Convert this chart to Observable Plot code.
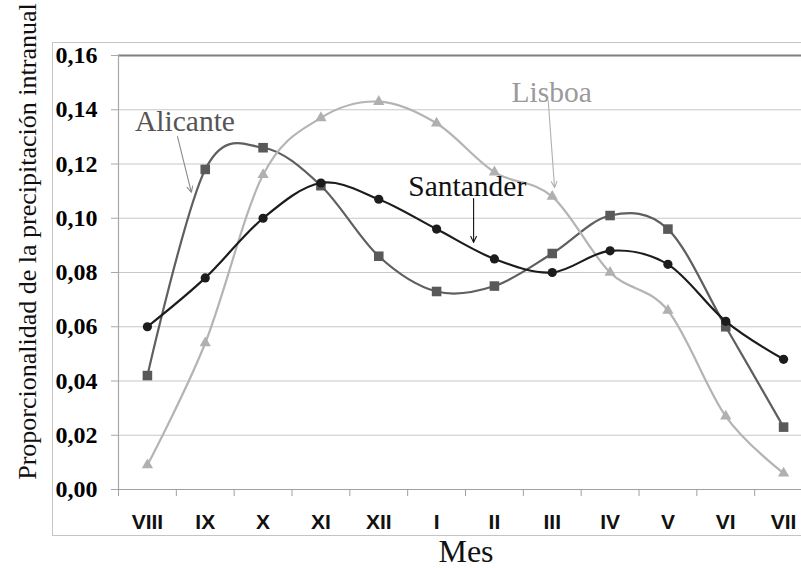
<!DOCTYPE html>
<html>
<head>
<meta charset="utf-8">
<script src="https://cdn.jsdelivr.net/npm/d3@7"></script>
<script src="https://cdn.jsdelivr.net/npm/@observablehq/plot@0.6"></script>
<style>
  html, body { margin: 0; padding: 0; background: #fff; overflow: hidden; }
  #wrap { position: relative; width: 801px; height: 568px; }
  #frame { position: absolute; left: 52px; top: 42px; width: 760px; height: 494px; border: 1px solid #c4c4c4; box-sizing: border-box; }
  #chart { position: absolute; left: 0; top: 0; }
</style>
</head>
<body>
<div id="wrap"><div id="frame"></div><div id="chart"></div></div>
<script>
// Months (hydrological year)
const months = ["VIII", "IX", "X", "XI", "XII", "I", "II", "III", "IV", "V", "VI", "VII"];

// Series values
const santander = [0.060, 0.078, 0.100, 0.113, 0.107, 0.096, 0.085, 0.080, 0.088, 0.083, 0.062, 0.048];
const alicante  = [0.042, 0.118, 0.126, 0.112, 0.086, 0.073, 0.075, 0.087, 0.101, 0.096, 0.060, 0.023];
const lisboa    = [0.009, 0.054, 0.116, 0.137, 0.143, 0.135, 0.117, 0.108, 0.080, 0.066, 0.027, 0.006];

// Y ticks
const yTicks = [0, 0.02, 0.04, 0.06, 0.08, 0.10, 0.12, 0.14, 0.16];

// Annotations (month index position, value)
const labelNames  = ["Alicante", "Lisboa", "Santander"];
const labelX      = [0.65, 6.99, 5.53];
const labelY      = [0.1357, 0.1464, 0.1117];
const labelColors = ["#555555", "#9a9a9a", "#111111"];
const arrowX1 = [0.52, 6.93, 5.64];
const arrowY1 = [0.1301, 0.1434, 0.1073];
const arrowX2 = [0.76, 7.04, 5.64];
const arrowY2 = [0.1095, 0.1113, 0.0911];
const arrowColors = ["#8a8a8a", "#b0b0b0", "#111111"];

const yTitle = "Proporcionalidad de la precipitación intranual";
const xTitle = "Mes";

const toRows = (vals) => vals.map((v, i) => ({i, v}));
const sRows = toRows(santander), aRows = toRows(alicante), lRows = toRows(lisboa);
const labels = labelNames.map((t, k) => ({t, x: labelX[k], y: labelY[k], c: labelColors[k]}));
const arrows = labelNames.map((t, k) => ({x1: arrowX1[k], y1: arrowY1[k], x2: arrowX2[k], y2: arrowY2[k], c: arrowColors[k]}));
const fmt = (d) => d3.format(".2f")(d).replace(".", ",");
const bandEdges = d3.range(-0.5, 12, 1);

const chart = Plot.plot({
  width: 801,
  height: 568,
  marginLeft: 118,
  marginTop: 55,
  marginBottom: 79,
  marginRight: 0,
  style: {background: "transparent", overflow: "visible"},
  x: {type: "linear", domain: [-0.5, 11.5], range: [118, 812]},
  y: {domain: [0, 0.16]},
  marks: [
    Plot.gridY(yTicks.slice(1, -1), {stroke: "#c8c8c8", strokeOpacity: 1, strokeWidth: 1.2}),
    Plot.ruleY([0.16], {stroke: "#7f7f7f", strokeWidth: 1.8}),
    Plot.ruleY([0], {stroke: "#a0a0a0", strokeWidth: 1.2}),
    Plot.ruleX([-0.5], {y1: 0, y2: 0.16, stroke: "#a8a8a8", strokeWidth: 1.2}),
    Plot.axisY({ticks: yTicks, tickFormat: fmt, tickSize: 7, tickPadding: 14, stroke: "#a8a8a8",
      fontFamily: "Liberation Serif", fontWeight: "bold", fontSize: 24, fill: "#000", label: null}),
    Plot.axisX({ticks: bandEdges, tickFormat: () => "", tickSize: 7, stroke: "#a0a0a0", label: null}),
    Plot.axisX({ticks: d3.range(12), tickFormat: (i) => months[i], tickSize: 0, tickPadding: 25,
      fontFamily: "Liberation Sans", fontWeight: "bold", fontSize: 21, fill: "#111", label: null}),
    // series
    Plot.line(aRows, {x: "i", y: "v", curve: "cardinal", stroke: "#5f5f5f", strokeWidth: 2.2}),
    Plot.dot(aRows, {x: "i", y: "v", symbol: "square", r: 5.4, fill: "#595959", stroke: "none"}),
    Plot.line(lRows, {x: "i", y: "v", curve: "cardinal", stroke: "#b4b4b4", strokeWidth: 2.2}),
    Plot.dot(lRows, {x: "i", y: "v", symbol: "triangle", r: 4.2, fill: "#b0b0b0", stroke: "none"}),
    Plot.line(sRows, {x: "i", y: "v", curve: "cardinal", stroke: "#1c1c1c", strokeWidth: 2.2}),
    Plot.dot(sRows, {x: "i", y: "v", symbol: "circle", r: 4.6, fill: "#1c1c1c", stroke: "none"}),
    // annotations
    Plot.arrow(arrows, {x1: "x1", y1: "y1", x2: "x2", y2: "y2", stroke: "c", strokeWidth: 1.1, headLength: 9, headAngle: 50}),
    Plot.text(labels, {x: "x", y: "y", text: "t", fill: "c", fontFamily: "Liberation Serif", fontSize: 29.5}),
    // titles
    Plot.text([yTitle], {frameAnchor: "left", textAnchor: "middle", lineAnchor: "middle", rotate: -90, dx: -91, dy: -31,
      fontFamily: "Liberation Serif", fontSize: 26, fill: "#111"}),
    Plot.text([xTitle], {frameAnchor: "bottom", textAnchor: "middle", lineAnchor: "middle", dx: 6, dy: 62,
      fontFamily: "Liberation Serif", fontSize: 32, fill: "#111"})
  ]
});
document.getElementById("chart").appendChild(chart);
</script>
</body>
</html>
